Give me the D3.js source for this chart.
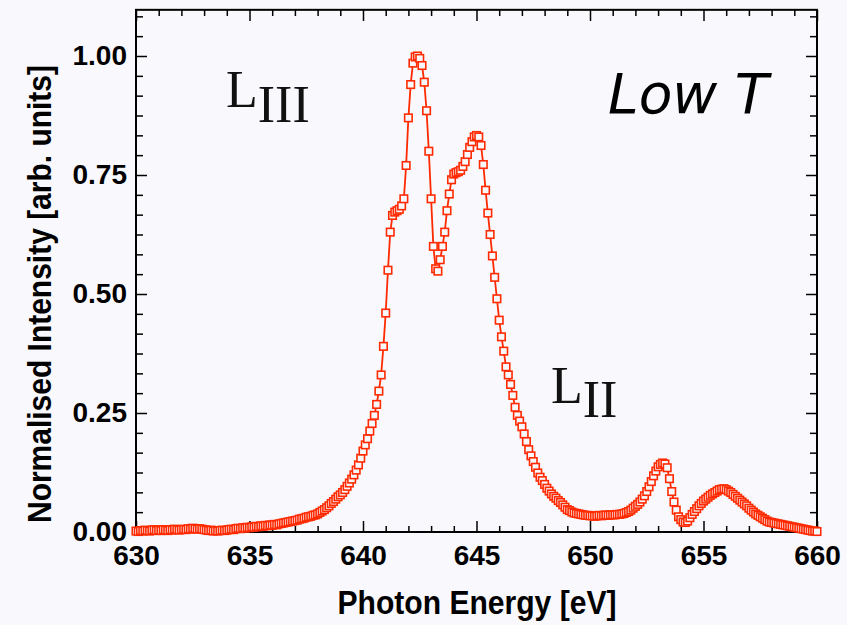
<!DOCTYPE html>
<html>
<head>
<meta charset="utf-8">
<script src="https://cdn.jsdelivr.net/npm/d3@7"></script>
<style>
	body { margin: 0; background: #f9f9fd; }
	svg { display: block; }
	.tick text { font-family: "Liberation Sans", Arial, sans-serif; font-weight: bold; font-size: 28px; fill: #000; }
	.tick line { stroke: #000; stroke-width: 1.5; }
	.title { font-family: "Liberation Sans", Arial, sans-serif; font-weight: bold; font-size: 34px; fill: #000; }
	.edge { font-family: "Liberation Serif", "Times New Roman", serif; font-size: 52px; fill: #111; }
</style>
</head>
<body>
<svg id="chart"></svg>
<script>
var width = 847;
var height = 625;
var plotLeft = 136, plotRight = 817;
var plotTop = 10, plotBottom = 532;
var yTop = 1.097;
var lineColor = "#ff2a00";

// photon energy [eV] and normalised intensity
var energy = [
	630.0,630.1,630.2,630.3,630.4,630.5,630.6,630.7,630.8,630.9,
	631.0,631.1,631.2,631.3,631.4,631.5,631.6,631.7,631.8,631.9,
	632.0,632.1,632.2,632.3,632.4,632.5,632.6,632.7,632.8,632.9,
	633.0,633.1,633.2,633.3,633.4,633.5,633.6,633.7,633.8,633.9,
	634.0,634.1,634.2,634.3,634.4,634.5,634.6,634.7,634.8,634.9,
	635.0,635.1,635.2,635.3,635.4,635.5,635.6,635.7,635.8,635.9,
	636.0,636.1,636.2,636.3,636.4,636.5,636.6,636.7,636.8,636.9,
	637.0,637.1,637.2,637.3,637.4,637.5,637.6,637.7,637.8,637.9,
	638.0,638.1,638.2,638.3,638.4,638.5,638.6,638.7,638.8,638.9,
	639.0,639.1,639.2,639.3,639.4,639.5,639.6,639.7,639.8,639.9,
	640.0,640.1,640.2,640.3,640.4,640.5,640.6,640.7,640.8,640.9,
	641.0,641.1,641.2,641.3,641.4,641.5,641.6,641.7,641.8,641.9,
	642.0,642.1,642.2,642.3,642.4,642.5,642.6,642.7,642.8,642.9,
	643.0,643.1,643.2,643.3,643.4,643.5,643.6,643.7,643.8,643.9,
	644.0,644.1,644.2,644.3,644.4,644.5,644.6,644.7,644.8,644.9,
	645.0,645.1,645.2,645.3,645.4,645.5,645.6,645.7,645.8,645.9,
	646.0,646.1,646.2,646.3,646.4,646.5,646.6,646.7,646.8,646.9,
	647.0,647.1,647.2,647.3,647.4,647.5,647.6,647.7,647.8,647.9,
	648.0,648.1,648.2,648.3,648.4,648.5,648.6,648.7,648.8,648.9,
	649.0,649.1,649.2,649.3,649.4,649.5,649.6,649.7,649.8,649.9,
	650.0,650.1,650.2,650.3,650.4,650.5,650.6,650.7,650.8,650.9,
	651.0,651.1,651.2,651.3,651.4,651.5,651.6,651.7,651.8,651.9,
	652.0,652.1,652.2,652.3,652.4,652.5,652.6,652.7,652.8,652.9,
	653.0,653.1,653.2,653.3,653.4,653.5,653.6,653.7,653.8,653.9,
	654.0,654.1,654.2,654.3,654.4,654.5,654.6,654.7,654.8,654.9,
	655.0,655.1,655.2,655.3,655.4,655.5,655.6,655.7,655.8,655.9,
	656.0,656.1,656.2,656.3,656.4,656.5,656.6,656.7,656.8,656.9,
	657.0,657.1,657.2,657.3,657.4,657.5,657.6,657.7,657.8,657.9,
	658.0,658.1,658.2,658.3,658.4,658.5,658.6,658.7,658.8,658.9,
	659.0,659.1,659.2,659.3,659.4,659.5,659.6,659.7,659.8,659.9,
	660.0];

var intensity = [
	0.002,0.001,0.003,0.002,0.004,0.003,0.002,0.004,0.005,0.003,
	0.004,0.003,0.005,0.004,0.003,0.005,0.004,0.006,0.005,0.004,
	0.005,0.006,0.005,0.007,0.006,0.008,0.007,0.006,0.007,0.006,
	0.005,0.004,0.003,0.004,0.002,0.003,0.002,0.003,0.004,0.003,
	0.004,0.005,0.006,0.005,0.007,0.008,0.007,0.009,0.008,0.010,
	0.009,0.011,0.010,0.012,0.011,0.013,0.012,0.014,0.013,0.015,
	0.014,0.016,0.015,0.017,0.018,0.019,0.020,0.021,0.022,0.023,
	0.024,0.025,0.027,0.028,0.029,0.031,0.032,0.033,0.035,0.036,
	0.038,0.041,0.044,0.047,0.051,0.055,0.060,0.064,0.069,0.074,
	0.078,0.083,0.089,0.096,0.103,0.111,0.120,0.130,0.141,0.155,
	0.170,0.183,0.196,0.212,0.228,0.245,0.268,0.296,0.330,0.390,
	0.460,0.550,0.630,0.665,0.672,0.675,0.678,0.685,0.700,0.770,
	0.870,0.940,0.985,0.998,1.000,0.995,0.980,0.945,0.885,0.800,
	0.700,0.600,0.553,0.548,0.572,0.600,0.630,0.675,0.710,0.740,
	0.752,0.755,0.757,0.760,0.768,0.778,0.793,0.808,0.820,0.830,
	0.833,0.830,0.812,0.772,0.718,0.670,0.625,0.580,0.535,0.490,
	0.445,0.410,0.380,0.347,0.330,0.310,0.287,0.262,0.245,0.233,
	0.221,0.206,0.190,0.173,0.160,0.148,0.136,0.124,0.115,0.108,
	0.100,0.092,0.086,0.080,0.075,0.071,0.066,0.062,0.057,0.052,
	0.047,0.045,0.042,0.040,0.039,0.038,0.037,0.036,0.035,0.035,
	0.034,0.034,0.033,0.034,0.035,0.034,0.035,0.036,0.035,0.036,
	0.036,0.036,0.037,0.037,0.038,0.039,0.041,0.043,0.046,0.050,
	0.054,0.058,0.063,0.069,0.076,0.085,0.095,0.106,0.118,0.128,
	0.137,0.142,0.145,0.143,0.135,0.112,0.085,0.063,0.046,0.032,
	0.026,0.021,0.020,0.023,0.030,0.037,0.043,0.049,0.055,0.060,
	0.065,0.069,0.073,0.077,0.080,0.083,0.086,0.089,0.090,0.091,
	0.089,0.086,0.083,0.079,0.075,0.071,0.067,0.063,0.059,0.055,
	0.050,0.046,0.042,0.038,0.035,0.032,0.029,0.026,0.023,0.021,
	0.020,0.019,0.018,0.017,0.016,0.015,0.014,0.013,0.012,0.011,
	0.010,0.009,0.008,0.007,0.006,0.005,0.004,0.003,0.002,0.002,
	0.001];

var xMajor = [630, 635, 640, 645, 650, 655, 660];
var xMinor = [631,632,633,634,636,637,638,639,641,642,643,644,
	646,647,648,649,651,652,653,654,656,657,658,659];
var yMajor = [0, 0.25, 0.5, 0.75, 1.0];
var yMinor = [0.0417,0.0833,0.125,0.1667,0.2083,0.2917,0.3333,0.375,0.4167,0.4583,
	0.5417,0.5833,0.625,0.6667,0.7083,0.7917,0.8333,0.875,0.9167,0.9583,1.0417,1.0833];

var data = energy.map(function(e, i) { return { e: e, v: intensity[i] }; });

var svg = d3.select("#chart")
.attr("width", width)
.attr("height", height);

var x = d3.scaleLinear()
.domain([630, 660])
.range([plotLeft, plotRight]);

var y = d3.scaleLinear()
.domain([0, 1])
.range([plotBottom, 56]);

// inward ticks on all four sides
function tickAxis(axis, vals, size, fmt) {
	return axis.tickValues(vals).tickSizeInner(size).tickSizeOuter(0).tickFormat(fmt);
}
var none = function() { return ""; };

svg.append("g").attr("transform", "translate(0," + plotBottom + ")")
.call(tickAxis(d3.axisBottom(x), xMinor, -6, none));
svg.append("g").attr("class", "xaxis").attr("transform", "translate(0," + plotBottom + ")")
.call(tickAxis(d3.axisBottom(x), xMajor, -11, d3.format("d")).tickPadding(13));
svg.append("g").attr("transform", "translate(0," + plotTop + ")")
.call(tickAxis(d3.axisTop(x), xMinor, -6, none));
svg.append("g").attr("transform", "translate(0," + plotTop + ")")
.call(tickAxis(d3.axisTop(x), xMajor, -11, none));

svg.append("g").attr("transform", "translate(" + plotLeft + ",0)")
.call(tickAxis(d3.axisLeft(y), yMinor, -7, none));
svg.append("g").attr("class", "yaxis").attr("transform", "translate(" + plotLeft + ",0)")
.call(tickAxis(d3.axisLeft(y), yMajor, -11, d3.format(".2f")).tickPadding(9));
svg.append("g").attr("transform", "translate(" + plotRight + ",0)")
.call(tickAxis(d3.axisRight(y), yMinor, -7, none));
svg.append("g").attr("transform", "translate(" + plotRight + ",0)")
.call(tickAxis(d3.axisRight(y), yMajor, -11, none));

svg.selectAll(".domain").remove();
svg.selectAll(".tick text").attr("font-size", null).attr("font-family", null);

// frame
svg.append("rect")
.attr("x", x(630)).attr("y", y(yTop))
.attr("width", x(660) - x(630))
.attr("height", y(0) - y(yTop))
.attr("fill", "none")
.attr("stroke", "#000")
.attr("stroke-width", 2);

// spectrum
var line = d3.line()
.x(function(d) { return x(d.e); })
.y(function(d) { return y(d.v); });

svg.append("path")
.datum(data)
.attr("d", line)
.attr("fill", "none")
.attr("stroke", lineColor)
.attr("stroke-width", 1.8);

var ms = 7.5;
svg.append("g").selectAll("rect").data(data)
.enter().append("rect")
.attr("x", function(d) { return x(d.e) - ms/2; })
.attr("y", function(d) { return y(d.v) - ms/2; })
.attr("width", ms).attr("height", ms)
.attr("fill", "#f9f9fd")
.attr("stroke", lineColor)
.attr("stroke-width", 1.6);

// axis titles
svg.append("text")
.attr("class", "title")
.attr("x", 477).attr("y", 614)
.attr("text-anchor", "middle")
.attr("textLength", 279)
.attr("lengthAdjust", "spacingAndGlyphs")
.text("Photon Energy [eV]");

svg.append("text")
.attr("class", "title")
.attr("transform", "translate(51," + 294 + ") rotate(-90)")
.attr("text-anchor", "middle")
.attr("textLength", 458)
.attr("lengthAdjust", "spacingAndGlyphs")
.text("Normalised Intensity [arb. units]");

// edge labels
var l3 = svg.append("text").attr("class", "edge").attr("x", 226).attr("y", 107);
l3.append("tspan").text("L");
l3.append("tspan").attr("dy", 15).text("III");

var l2 = svg.append("text").attr("class", "edge").attr("x", 551).attr("y", 403);
l2.append("tspan").text("L");
l2.append("tspan").attr("dy", 14).text("II");

svg.append("text")
.attr("x", 608).attr("y", 113)
.attr("font-family", "'DejaVu Sans', Verdana, sans-serif")
.attr("font-style", "italic")
.attr("font-size", 55)
.attr("fill", "#000")
.text("Low T");
</script>
</body>
</html>
